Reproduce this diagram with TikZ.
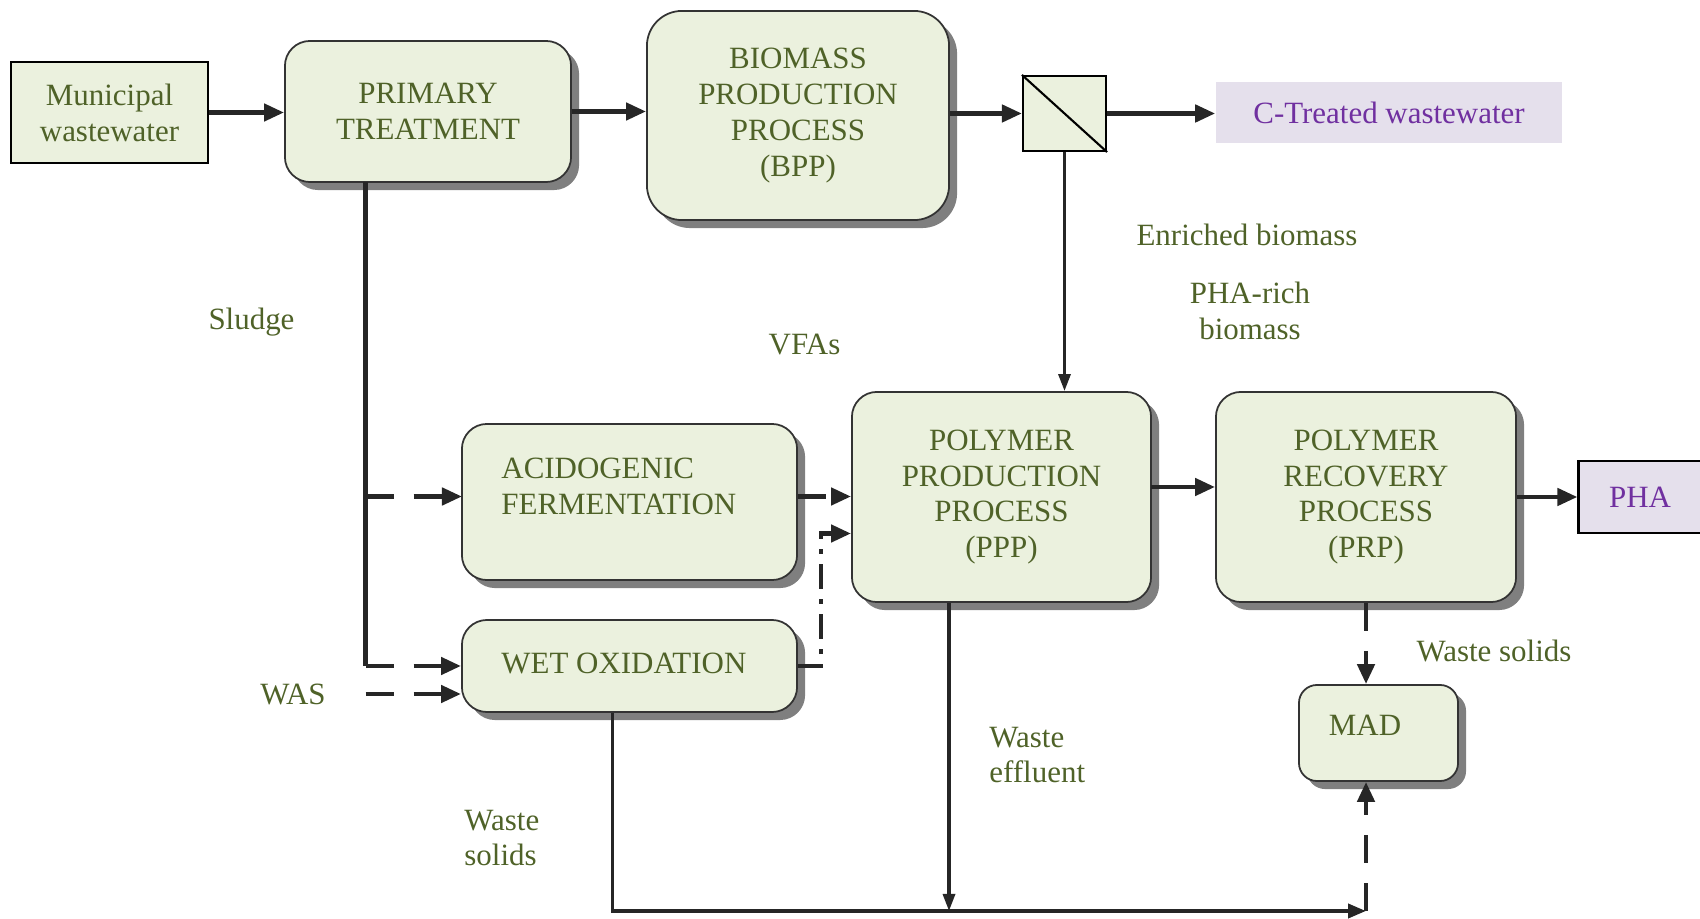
\documentclass[tikz,border=0pt]{standalone}
\usepackage{fontspec}
\setmainfont{Liberation Serif}
\usetikzlibrary{arrows.meta,shadows}

\definecolor{boxgreen}{HTML}{EBF1DE}
\definecolor{txtolive}{HTML}{4F6228}
\definecolor{lilac}{HTML}{E5E0EC}
\definecolor{phapurple}{HTML}{7030A0}
\definecolor{shadegray}{HTML}{7F7F7F}

\tikzset{
  every node/.style={font=\fontsize{8.8}{10.2}\selectfont, text=txtolive},
  procbox/.style={draw=black!80, line width=0.5pt, fill=boxgreen, rounded corners=0.25cm, align=center,
    drop shadow={shadow xshift=0.08cm, shadow yshift=-0.08cm, fill=shadegray, opacity=1}},
  inbox/.style={draw=black, line width=0.6pt, fill=boxgreen, align=center},
  outbox/.style={fill=lilac, text=phapurple},
  flow/.style={line width=1.3pt, draw=black!85, -{Triangle[length=0.2cm,width=0.17cm]}},
  thinflow/.style={line width=0.9pt, draw=black!85, -{Triangle[length=0.17cm,width=0.12cm]}},
  dashflow/.style={flow, dash pattern=on 0.28cm off 0.2cm},
  dotflow/.style={flow, dash pattern=on 0.25cm off 0.1cm on 0.05cm off 0.1cm},
}

\begin{document}
\begin{tikzpicture}[x=0.01cm, y=-0.01cm]
\useasboundingbox (0,0) rectangle (1700,919);

%Municipal wastewater
\node[inbox, minimum width=1.97cm, minimum height=1.01cm] (mun) at (109.5,112.5) {Municipal\\wastewater};

%Primary treatment
\node[procbox, minimum width=2.86cm, minimum height=1.41cm] (prim) at (428,111.5) {PRIMARY\\TREATMENT};

%BPP
\node[procbox, rounded corners=0.35cm, minimum width=3.02cm, minimum height=2.09cm] (bpp) at (798,115.5) {BIOMASS\\PRODUCTION\\PROCESS\\(BPP)};

%Separator
\node[inbox, minimum width=0.83cm, minimum height=0.75cm] (sep) at (1064.5,113.5) {};
\draw[line width=0.6pt] (sep.north west) -- (sep.south east);

%C-Treated wastewater
\node[outbox, minimum width=3.46cm, minimum height=0.61cm] (ctw) at (1389,112.5) {C-Treated wastewater};

%Acidogenic fermentation
\node[procbox, minimum width=3.35cm, minimum height=1.56cm] (acid) at (629.5,502) {};
\node[anchor=west, align=left] (acidtxt) at (489,486) {ACIDOGENIC\\FERMENTATION};

%Wet oxidation
\node[procbox, minimum width=3.35cm, minimum height=0.92cm] (wet) at (629.5,666) {};
\node[anchor=west] (wettxt) at (489,663.5) {WET OXIDATION};

%PPP
\node[procbox, minimum width=2.99cm, minimum height=2.1cm] (ppp) at (1001.5,497) {POLYMER\\PRODUCTION\\PROCESS\\(PPP)};

%PRP
\node[procbox, minimum width=3.0cm, minimum height=2.1cm] (prp) at (1366,497) {POLYMER\\RECOVERY\\PROCESS\\(PRP)};

%PHA
\node[outbox, draw=black, line width=0.6pt, minimum width=1.23cm, minimum height=0.72cm] (pha) at (1640,497) {PHA};

%MAD
\node[procbox, rounded corners=0.18cm, minimum width=1.59cm, minimum height=0.96cm] (mad) at (1378.5,733) {};
\node (madtxt) at (1365,725) {MAD};

%Labels
\node (sludge) at (251.5,322) {Sludge};
\node (vfas) at (804.5,345) {VFAs};
\node (enr) at (1247,235) {Enriched biomass};
\node[align=center] (pharich) at (1250,311) {PHA-rich\\biomass};
\node (wsolprp) at (1494,650.5) {Waste solids};
\node[anchor=west, align=left] (wsolwet) at (452,838) {Waste\\solids};
\node[anchor=west, align=left] (weff) at (977,755) {Waste\\effluent};
\node (was) at (293,694) {WAS};

%Top row
\draw[flow] (mun.east) -- (mun.east -| prim.west);
\draw[flow] (prim.east) -- (prim.east -| bpp.west);
\draw[flow] (sep.west -| bpp.east) -- (sep.west);
\draw[flow] (sep.east) -- (sep.east -| ctw.west);
\draw[thinflow] (sep.south) -- (sep.south |- ppp.north);

%Sludge line
\coordinate (sltop) at (365.5,182);
\coordinate (acidin) at (462,496.5);
\draw[line width=1.3pt, black!85] (sltop) -- (sltop |- wet);
\draw[dashflow] (sltop |- acidin) -- (acidin);
\draw[dashflow] (sltop |- wet) -- (wet.west);
\draw[dashflow] (sltop |- was) -- (wet.west |- was);

%VFAs to PPP
\coordinate (wbend) at (821,533.5);
\draw[dashflow] (acid.east |- acidin) -- (ppp.west |- acidin);
\draw[dotflow] (wet.east) -| (wbend) -- (wbend -| ppp.west);

%PPP to PRP to PHA
\coordinate (pppout) at (1151,487);
\draw[flow] (pppout) -- (pppout -| prp.west);
\draw[flow] (prp.east) -- (pha.west);

%Waste solids to MAD
\draw[dashflow] (prp.south) -- (prp.south |- mad.north);

%Bottom line
\coordinate (bl) at (612.5,911);
\coordinate (br) at (1366,911);
\coordinate (pe) at (949,911);
\draw[line width=1.1pt, black!85, -{Triangle[length=0.18cm,width=0.14cm]}] (wet.south -| bl) -- (bl) -- (br);
\draw[thinflow] (ppp.south -| pe) -- (pe);
\draw[dashflow] (br) -- (br |- mad.south);

\end{tikzpicture}
\end{document}
